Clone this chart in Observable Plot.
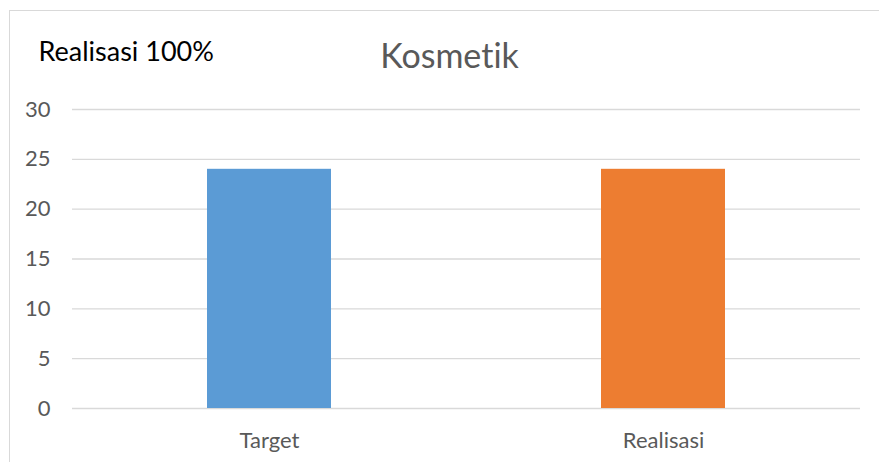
<!DOCTYPE html>
<html>
<head>
<meta charset="utf-8">
<script src="https://cdn.jsdelivr.net/npm/d3@7"></script>
<script src="https://cdn.jsdelivr.net/npm/@observablehq/plot@0.6"></script>
<style>
  html, body { margin: 0; padding: 0; background: #fff; overflow: hidden; }
  #wrap { position: relative; width: 879px; height: 462px; }
  #border { position: absolute; left: 9px; top: 10px; width: 900px; height: 500px;
            border: 1px solid #d9d9d9; box-sizing: border-box; pointer-events: none; }
  #chart { position: absolute; left: 0; top: 0; }
  svg text { font-variant-ligatures: none; font-feature-settings: "liga" 0; }
</style>
</head>
<body>
<div id="wrap"><div id="chart"></div><div id="border"></div></div>
<script>
const categories = ["Target", "Realisasi"];
const values = [24, 24];
const colors = ["#5B9BD5", "#ED7D31"];
const yTicks = [0, 5, 10, 15, 20, 25, 30];
const titleText = "Kosmetik";
const noteText = "Realisasi 100%";

const data = categories.map((c, i) => ({category: c, value: values[i], color: colors[i]}));
const font = "Lato, 'Open Sans', sans-serif";

const chart = Plot.plot({
  width: 879,
  height: 462,
  marginLeft: 72,
  marginRight: 19,
  marginTop: 109,
  marginBottom: 54,
  style: {fontFamily: font, background: "transparent", overflow: "visible"},
  x: {domain: categories, padding: 0, label: null},
  y: {domain: [0, 30], label: null},
  marks: [
    Plot.gridY(yTicks, {stroke: "#d9d9d9", strokeOpacity: 1, strokeWidth: 1.3}),
    Plot.barY(data, {x: "category", y: "value", fill: "color", insetLeft: 135, insetRight: 135}),
    Plot.axisY(yTicks, {tickSize: 0, tickPadding: 22, fontSize: 22, fill: "#595959", label: null}),
    Plot.axisX({tickSize: 0, tickPadding: 24, fontSize: 22, fill: "#595959", label: null}),
    Plot.text([titleText], {frameAnchor: "top", dx: -17, dy: -52, fontSize: 34, fill: "#595959", lineAnchor: "middle"}),
    Plot.text([noteText], {frameAnchor: "top-left", dx: -34, dy: -57, fontSize: 27, fill: "#000", textAnchor: "start", lineAnchor: "middle"})
  ]
});
document.getElementById("chart").appendChild(chart);
</script>
</body>
</html>
